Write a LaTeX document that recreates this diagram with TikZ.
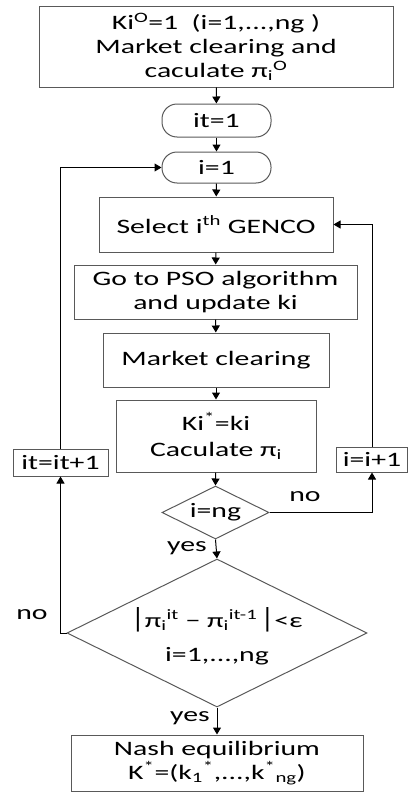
\documentclass[tikz,border=0pt]{standalone}
\usepackage{fontspec}
\setmainfont[FakeStretch=1.45]{Carlito}
\usetikzlibrary{shapes.geometric,arrows.meta}

\begin{document}
\begin{tikzpicture}[x=1pt,y=-1pt]\tikzstyle{every node} = [align=center,font=\fontsize{20.5}{24}\selectfont]
      \tikzstyle{procbox} = [draw=black!65,line width=1pt,inner sep=0pt]
      \tikzstyle{termbox} = [procbox,rounded corners=15pt]
      \tikzstyle{decbox} = [procbox,diamond,inner sep=0pt]
      \tikzstyle{flow} = [line width=1pt,-{Triangle[width=8pt,length=7pt]}]
      \useasboundingbox (0,0) rectangle (407,792);

      % main column
      \node[procbox,minimum width=354,minimum height=80] (init) at (216,47)
        {Ki\textsuperscript{O}=1\ \ (i=1,...,ng )\\Market clearing and\\caculate π\textsubscript{i}\textsuperscript{O}};
      \node[termbox,minimum width=109,minimum height=33] (itone) at (216.5,120.5) {it=1};
      \node[termbox,minimum width=109,minimum height=31] (ione) at (216.5,167.5) {i=1};
      \node[procbox,minimum width=234,minimum height=55] (select) at (216,224.5) {Select i\textsuperscript{th} GENCO};
      \node[procbox,minimum width=283,minimum height=54] (pso) at (215.5,292) {Go to PSO algorithm\\and update ki};
      \node[procbox,minimum width=226,minimum height=54] (clear) at (216,360) {Market clearing};
      \node[procbox,minimum width=200,minimum height=72] (kistar) at (216,436) {Ki\textsuperscript{*}=ki\\[2pt]Caculate π\textsubscript{i}};

      % decisions
      \node[decbox,minimum width=107,minimum height=53] (ing) at (215.5,512.5) {};
      \node (ingtxt) at (ing.center) {i=ng};
      \node[decbox,minimum width=300,minimum height=148] (conv) at (217,633) {};
      \node (convtxt) at (217,636)
        {\scalebox{1}[1.35]{|}π\textsubscript{i}\textsuperscript{it} − π\textsubscript{i}\textsuperscript{it-1}\,\scalebox{1}[1.35]{|}<ε\\[10pt]i=1,...,ng};
      \node[procbox,minimum width=292,minimum height=56] (nash) at (217,763)
        {Nash equilibrium\\K\textsuperscript{*}=(k\textsubscript{1}\textsuperscript{*},...,k\textsuperscript{*}\textsubscript{ng})};

      % counters
      \node[procbox,minimum width=95,minimum height=27] (itinc) at (60.5,462.5) {it=it+1};
      \node[procbox,minimum width=71,minimum height=25] (iinc) at (372,459.5) {i=i+1};

      \draw[flow] (init) -- (itone);
      \draw[flow] (itone) -- (ione);
      \draw[flow] (ione) -- (select);
      \draw[flow] (select) -- (pso);
      \draw[flow] (pso) -- (clear);
      \draw[flow] (clear) -- (kistar);
      \draw[flow] (kistar) -- (ing.north);
      \draw[flow] (ing.south) -- (conv.north);
      \draw[flow] (conv.south) -- (nash.north);

      \draw[flow] (ing.east) -| (iinc.south);
      \draw[flow] (iinc.north) |- (select.east);
      \draw[flow] (conv.west) -| (itinc.south);
      \draw[flow] (itinc.north) |- (ione.west);

      \node (noA) at (305,497) {no};
      \node (yesA) at (187,548) {yes};
      \node (noB) at (32,615) {no};
      \node (yesB) at (190,718) {yes};
    \end{tikzpicture}
\end{document}
